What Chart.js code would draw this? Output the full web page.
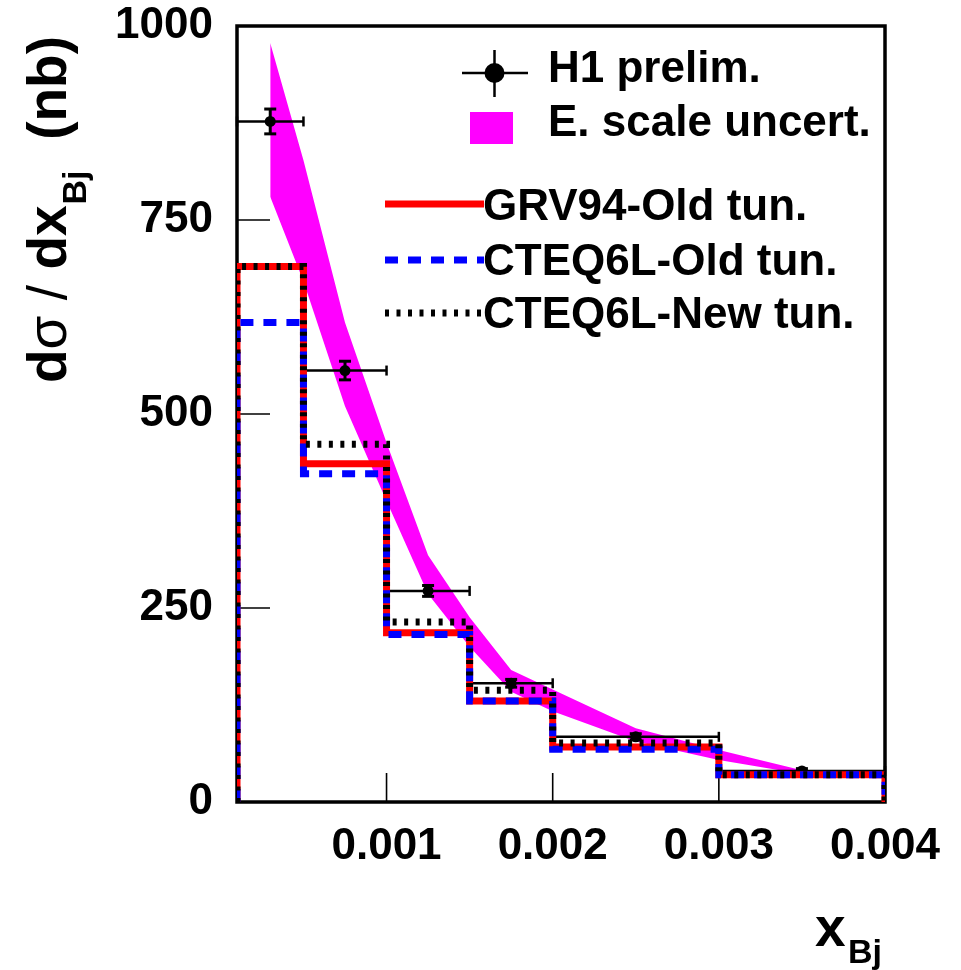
<!DOCTYPE html>
<html><head><meta charset="utf-8">
<script src="https://cdn.jsdelivr.net/npm/chart.js@4.4.0/dist/chart.umd.min.js"></script>
<style>html,body{margin:0;padding:0;background:#fff;} #wrap{width:961px;height:970px;position:relative;}</style>
</head><body><div id="wrap"><canvas id="c" width="961" height="970"></canvas></div>
<script>
// ---- data ----
const binEdges = [0.0001, 0.0005, 0.001, 0.0015, 0.002, 0.003, 0.004];
const grv94Old = [690, 436, 218, 130, 71, 35];
const cteq6lOld = [618, 423, 216, 130, 68, 35];
const cteq6lNew = [690, 461, 232, 144, 76, 35];

const h1X = [0.0003, 0.00075, 0.00125, 0.00175, 0.0025, 0.0035];
const h1Y = [877, 556, 272, 153, 84, 40];
const h1YErr = [16, 12, 7, 5, 4, 3];
const h1XLo = [0.0001, 0.0005, 0.001, 0.0015, 0.002, 0.003];
const h1XHi = [0.0005, 0.001, 0.0015, 0.002, 0.003, 0.004];

const bandX  = [0.0003, 0.0005, 0.00075, 0.001, 0.00125, 0.0015, 0.00175, 0.002, 0.0025, 0.003, 0.0035];
const bandHi = [978, 827, 618, 463, 318, 238, 170, 145, 95, 67, 41];
const bandLo = [780, 671, 510, 388, 268, 200, 142, 117, 78, 54, 36];

const xTicks = [0.001, 0.002, 0.003, 0.004];
const xTickLabels = ['0.001', '0.002', '0.003', '0.004'];
const yTicks = [0, 250, 500, 750, 1000];
const yTickLabels = ['0', '250', '500', '750', '1000'];

const legendLabels = ['H1 prelim.', 'E. scale uncert.', 'GRV94-Old tun.', 'CTEQ6L-Old tun.', 'CTEQ6L-New tun.'];

// ---- helpers ----
function histPoints(edges, vals) {
  const pts = [{x: edges[0], y: 0}];
  vals.forEach((v, i) => { pts.push({x: edges[i], y: v}); pts.push({x: edges[i + 1], y: v}); });
  pts.push({x: edges[edges.length - 1], y: 0});
  return pts;
}
const FONT = '"Liberation Sans", Arial, Helvetica, sans-serif';
const RED = '#ff0000', BLUE = '#0000ff', MAG = '#ff00ff';
const LW = 7, BLUE_DASH = [13, 10], BLACK_DOT = [4, 7.5];

const customDraw = {
  id: 'customDraw',
  beforeDatasetsDraw(chart) {
    const {ctx, chartArea: a, scales} = chart;
    ctx.save();
    ctx.strokeStyle = '#000';
    ctx.lineWidth = 1.6;
    yTicks.forEach(v => {
      if (v === 0 || v === 1000) return;
      const y = scales.y.getPixelForValue(v);
      ctx.beginPath(); ctx.moveTo(a.left, y); ctx.lineTo(a.left + 33, y); ctx.stroke();
    });
    xTicks.forEach(v => {
      const x = scales.x.getPixelForValue(v);
      ctx.beginPath(); ctx.moveTo(x, a.bottom); ctx.lineTo(x, a.bottom - 29); ctx.stroke();
    });
    ctx.lineWidth = 3.5;
    ctx.strokeRect(a.left, a.top, a.right - a.left, a.bottom - a.top);
    ctx.restore();
  },
  afterDatasetDraw(chart, args) {
    if (args.index !== 2) return;
    const {ctx, scales} = chart;
    ctx.save();
    ctx.strokeStyle = '#000';
    h1X.forEach((xv, i) => {
      const x = scales.x.getPixelForValue(xv);
      const y = scales.y.getPixelForValue(h1Y[i]);
      const x0 = scales.x.getPixelForValue(h1XLo[i]);
      const x1 = scales.x.getPixelForValue(h1XHi[i]);
      const y0 = scales.y.getPixelForValue(h1Y[i] - h1YErr[i]);
      const y1 = scales.y.getPixelForValue(h1Y[i] + h1YErr[i]);
      ctx.lineWidth = 2.5;
      ctx.beginPath(); ctx.moveTo(x0, y); ctx.lineTo(x1, y); ctx.stroke();
      ctx.beginPath(); ctx.moveTo(x1, y - 5); ctx.lineTo(x1, y + 5); ctx.stroke();
      ctx.beginPath(); ctx.moveTo(x0, y - 5); ctx.lineTo(x0, y + 5); ctx.stroke();
      ctx.lineWidth = 3;
      ctx.beginPath(); ctx.moveTo(x, y0); ctx.lineTo(x, y1); ctx.stroke();
      ctx.beginPath(); ctx.moveTo(x - 6, y0); ctx.lineTo(x + 6, y0); ctx.stroke();
      ctx.beginPath(); ctx.moveTo(x - 6, y1); ctx.lineTo(x + 6, y1); ctx.stroke();
    });
    ctx.restore();
  },
  afterDraw(chart) {
    const ctx = chart.ctx;
    ctx.save();
    ctx.fillStyle = '#000';
    ctx.textBaseline = 'alphabetic';
    ctx.textAlign = 'left';
    // legend
    ctx.font = 'bold 44px ' + FONT;
    ctx.strokeStyle = '#000'; ctx.lineWidth = 2.5;
    ctx.beginPath(); ctx.moveTo(462, 73); ctx.lineTo(528, 73); ctx.stroke();
    ctx.beginPath(); ctx.moveTo(494.5, 50); ctx.lineTo(494.5, 97); ctx.stroke();
    ctx.beginPath(); ctx.arc(494.5, 73, 10, 0, Math.PI * 2); ctx.fill();
    ctx.fillText(legendLabels[0], 548, 82);
    ctx.fillStyle = MAG; ctx.fillRect(470, 112, 43, 32);
    ctx.fillStyle = '#000';
    ctx.fillText(legendLabels[1], 548, 136);
    ctx.lineWidth = LW; ctx.lineCap = 'butt';
    ctx.strokeStyle = RED; ctx.setLineDash([]);
    ctx.beginPath(); ctx.moveTo(385, 204); ctx.lineTo(484, 204); ctx.stroke();
    ctx.fillText(legendLabels[2], 483, 220);
    ctx.strokeStyle = BLUE; ctx.setLineDash(BLUE_DASH);
    ctx.beginPath(); ctx.moveTo(385, 260); ctx.lineTo(484, 260); ctx.stroke();
    ctx.fillText(legendLabels[3], 483, 275);
    ctx.strokeStyle = '#000'; ctx.setLineDash(BLACK_DOT);
    ctx.beginPath(); ctx.moveTo(385, 313); ctx.lineTo(484, 313); ctx.stroke();
    ctx.setLineDash([]);
    ctx.fillText(legendLabels[4], 483, 328);
    // y title (rotated, with thin sigma and slash)
    ctx.save();
    ctx.translate(66, 383);
    ctx.rotate(-Math.PI / 2);
    const parts = [
      ['d', 'bold 55px', 0], ['\u03c3', '55px', 0], [' / ', '55px', 0], ['dx', 'bold 55px', 0],
      ['Bj', 'bold 34px', 20], ['  (nb)', 'bold 55px', 0]
    ];
    let w = 0;
    parts.forEach(([t, f, dy], k) => {
      ctx.font = f + ' ' + FONT;
      if (k === 4) w += 1;
      ctx.fillText(t, w, dy);
      w += ctx.measureText(t).width;
    });
    ctx.restore();
    // x title
    ctx.font = 'bold 55px ' + FONT;
    ctx.fillText('x', 815, 946);
    ctx.font = 'bold 34px ' + FONT;
    ctx.fillText('Bj', 848, 963);
    ctx.restore();
  }
};

const lineBase = {showLine: true, pointRadius: 0, borderWidth: LW, tension: 0, fill: false,
  borderCapStyle: 'butt', borderJoinStyle: 'miter'};

new Chart(document.getElementById('c'), {
  type: 'scatter',
  data: {
    datasets: [
      {label: 'bandHi', data: bandX.map((x, i) => ({x, y: bandHi[i]})), showLine: true, pointRadius: 0,
        borderWidth: 0, borderColor: 'rgba(0,0,0,0)', backgroundColor: MAG, fill: '+1', tension: 0, order: 10},
      {label: 'bandLo', data: bandX.map((x, i) => ({x, y: bandLo[i]})), showLine: true, pointRadius: 0,
        borderWidth: 0, borderColor: 'rgba(0,0,0,0)', fill: false, tension: 0, order: 10},
      {label: legendLabels[0], data: h1X.map((x, i) => ({x, y: h1Y[i]})), showLine: false,
        pointRadius: 5.5, pointBackgroundColor: '#000', pointBorderWidth: 0, order: 8},
      Object.assign({label: legendLabels[2], data: histPoints(binEdges, grv94Old), borderColor: RED, order: 5}, lineBase),
      Object.assign({label: legendLabels[3], data: histPoints(binEdges, cteq6lOld), borderColor: BLUE, borderDash: BLUE_DASH, order: 4}, lineBase),
      Object.assign({label: legendLabels[4], data: histPoints(binEdges, cteq6lNew), borderColor: '#000', borderDash: BLACK_DOT, order: 3}, lineBase)
    ]
  },
  options: {
    responsive: false,
    animation: false,
    devicePixelRatio: 1,
    layout: {padding: {top: 26, right: 76, left: 0, bottom: 0}},
    plugins: {legend: {display: false}, tooltip: {enabled: false}},
    scales: {
      x: {
        type: 'linear', min: 0.0001, max: 0.004,
        afterBuildTicks: s => { s.ticks = xTicks.map(v => ({value: v})); },
        afterFit: s => { s.height = 168; s.paddingLeft = 0; s.paddingRight = 0; },
        grid: {display: false, drawTicks: false}, border: {display: false},
        ticks: {callback: (v, i) => xTickLabels[i], color: '#000', padding: 23, maxRotation: 0, autoSkip: false,
          font: {family: FONT, size: 44, weight: 'bold', lineHeight: 1}}
      },
      y: {
        type: 'linear', min: 0, max: 1000,
        afterBuildTicks: s => { s.ticks = yTicks.map(v => ({value: v})); },
        afterFit: s => { s.width = 237; s.paddingTop = 0; s.paddingBottom = 0; },
        grid: {display: false, drawTicks: false}, border: {display: false},
        ticks: {callback: (v, i) => yTickLabels[i], color: '#000', padding: 24, autoSkip: false,
          font: {family: FONT, size: 44, weight: 'bold', lineHeight: 1}}
      }
    }
  },
  plugins: [customDraw]
});
</script>
</body></html>
